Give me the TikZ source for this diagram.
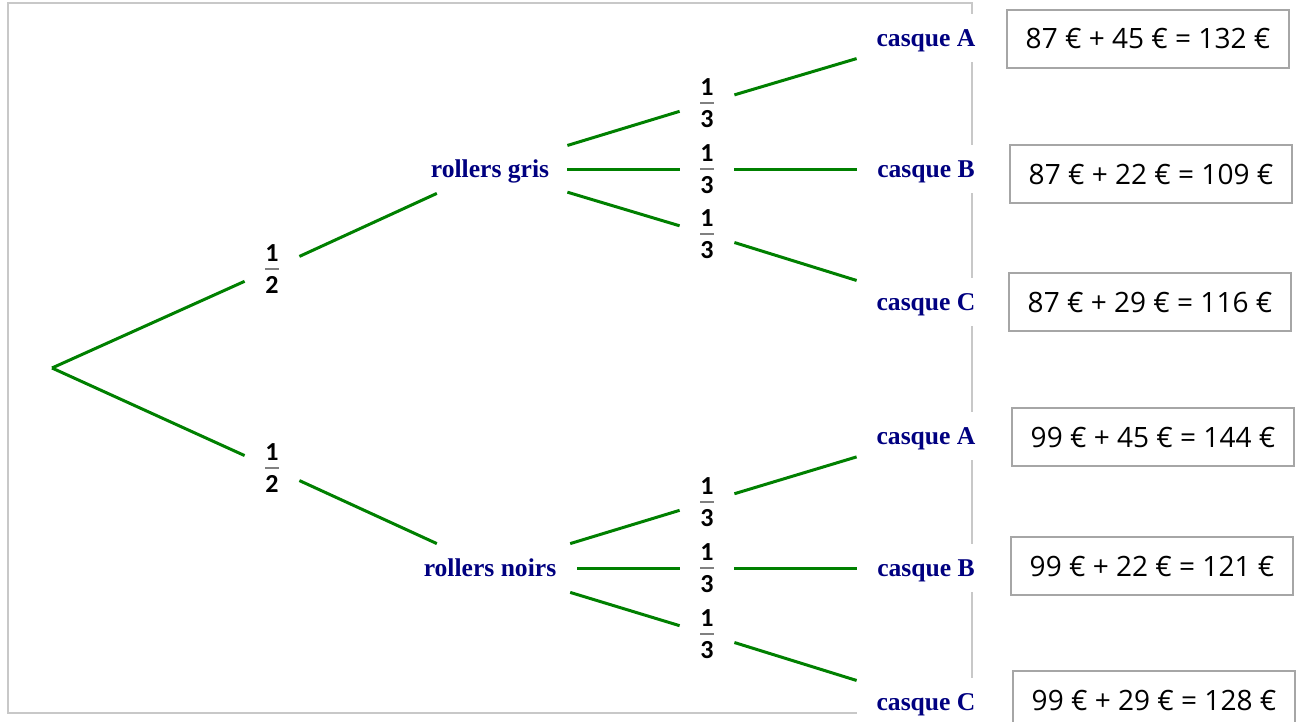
\documentclass[tikz,border=0pt]{standalone}
\usepackage{fontspec}
\setmainfont{Liberation Serif}
\newfontfamily\fracfont{Carlito}
\newfontfamily\sumfont{Open Sans}
\definecolor{branch}{RGB}{0,128,0}
\definecolor{labelblue}{RGB}{0,0,128}
\definecolor{framegray}{RGB}{200,200,200}
\definecolor{boxgray}{RGB}{166,166,166}
\definecolor{bargray}{RGB}{128,128,128}

% stacked fraction: bold digits, grey bar
\newcommand\probfrac[2]{\vbox{\offinterlineskip\fracfont\bfseries\fontsize{13}{15}\selectfont
  \halign{\hfil##\hfil\cr #1\cr\noalign{\kern3pt}\textcolor{bargray}{\rule{7pt}{1pt}}\cr
  \noalign{\kern3.2pt}#2\cr}}}

\tikzset{
  branchline/.style={draw=branch, line width=1.5pt},
  outcome/.style={font=\fontsize{12.8}{15}\selectfont\bfseries, text=labelblue,
    fill=white, inner sep=0pt, minimum height=24pt, text height=11.2pt, text depth=2.8pt},
  rollerbox/.style={outcome, minimum width=#1},
  casquebox/.style={outcome, minimum width=69pt},
  probnode/.style={inner sep=0pt, minimum width=27pt, minimum height=30pt},
  sumbox/.style={draw=boxgray, line width=1pt, fill=white, inner sep=0pt,
    minimum width=141pt, minimum height=29pt,
    font=\sumfont\fontsize{14}{17}\selectfont}
}

\begin{document}
\begin{tikzpicture}[x=0.5pt, y=-0.5pt]
\useasboundingbox (0,0) rectangle (1301,722);
\clip (0,0) rectangle (1301,722);

% frame
\draw[framegray, line width=0.75pt] (8,3) rectangle (972,713);

% root
\coordinate (root) at (52,368);

% first level
\node[rollerbox=77pt]  (gris)  at (490,169) {rollers gris};
\node[rollerbox=87pt]  (noirs) at (490,568) {rollers noirs};
\node[probnode] (h1) at (272,269) {\probfrac{1}{2}};
\node[probnode] (h2) at (272,468) {\probfrac{1}{2}};

% second level
\node[casquebox] (cA1) at (926,38)  {casque A};
\node[casquebox] (cB1) at (926,169) {casque B};
\node[casquebox] (cC1) at (926,302) {casque C};
\node[casquebox] (cA2) at (926,436) {casque A};
\node[casquebox] (cB2) at (926,568) {casque B};
\node[casquebox] (cC2) at (926,702) {casque C};

\node[probnode] (g1) at (707,103) {\probfrac{1}{3}};
\node[probnode] (g2) at (707,169) {\probfrac{1}{3}};
\node[probnode] (g3) at (707,234) {\probfrac{1}{3}};
\node[probnode] (n1) at (707,502) {\probfrac{1}{3}};
\node[probnode] (n2) at (707,568) {\probfrac{1}{3}};
\node[probnode] (n3) at (707,634) {\probfrac{1}{3}};

% branches
\draw[branchline] (root) -- (h1) -- (gris);
\draw[branchline] (root) -- (h2) -- (noirs);
\draw[branchline] (gris) -- (g1) -- (cA1);
\draw[branchline] (gris) -- (g2) -- (cB1);
\draw[branchline] (gris) -- (g3) -- (cC1);
\draw[branchline] (noirs) -- (n1) -- (cA2);
\draw[branchline] (noirs) -- (n2) -- (cB2);
\draw[branchline] (noirs) -- (n3) -- (cC2);

% totals
\node[sumbox] (s1) at (1148,39)  {87 € + 45 € = 132 €};
\node[sumbox] (s2) at (1151,174) {87 € + 22 € = 109 €};
\node[sumbox] (s3) at (1150,302) {87 € + 29 € = 116 €};
\node[sumbox] (s4) at (1153,437) {99 € + 45 € = 144 €};
\node[sumbox] (s5) at (1152,566) {99 € + 22 € = 121 €};
\node[sumbox] (s6) at (1154,700) {99 € + 29 € = 128 €};
\end{tikzpicture}
\end{document}
